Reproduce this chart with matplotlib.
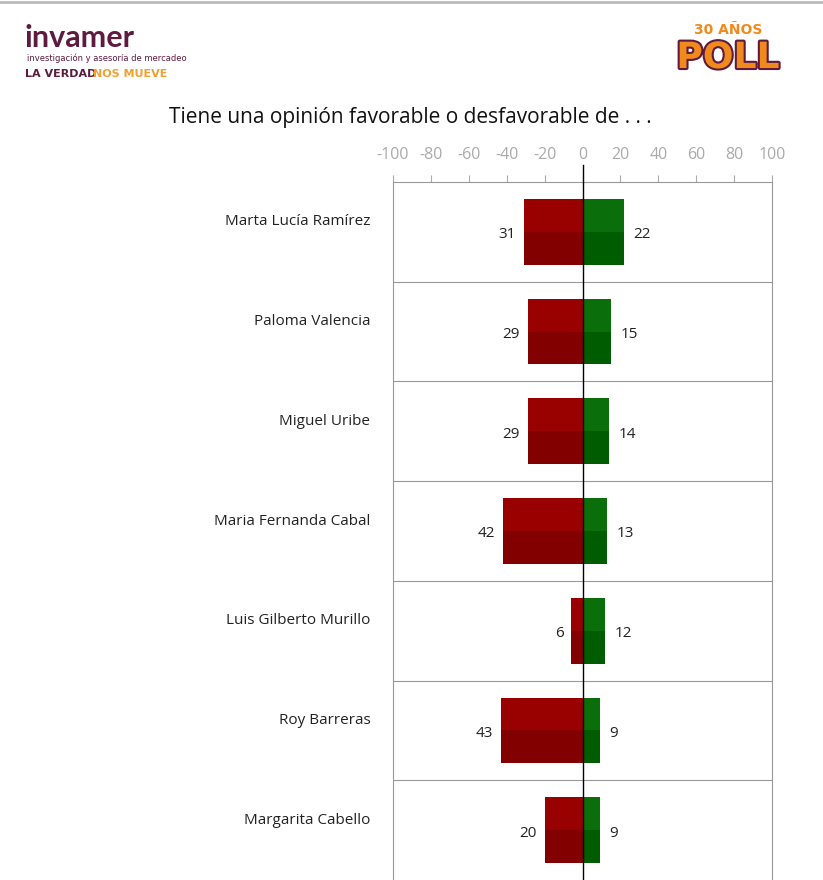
import matplotlib
matplotlib.use("Agg")
import matplotlib.pyplot as plt
import matplotlib.patheffects as pe

names = ["Marta Lucía Ramírez", "Paloma Valencia", "Miguel Uribe", "Maria Fernanda Cabal",
         "Luis Gilberto Murillo", "Roy Barreras", "Margarita Cabello"]
desfavorable = [31, 29, 29, 42, 6, 43, 20]
favorable = [22, 15, 14, 13, 12, 9, 9]
ticks = list(range(-100, 101, 20))

W, H = 823, 880
fig = plt.figure(figsize=(W/100, H/100), dpi=100)
fig.patch.set_facecolor("white")
fig.add_artist(plt.Line2D([0, 1], [0.998, 0.998], color="#bbbbbb", lw=2))

ax = fig.add_axes([393/W, 0, 379/W, 1 - 182/H])
ax.set_xlim(-100, 100)
ax.set_ylim(7, 0)
bh = 0.66
for i, (n, p) in enumerate(zip(desfavorable, favorable)):
    c = i + 0.5
    ax.barh(c - bh/4, -n, height=bh/2, color="#990000", left=0)
    ax.barh(c + bh/4, -n, height=bh/2, color="#820000", left=0)
    ax.barh(c - bh/4, p, height=bh/2, color="#0a6e0a", left=0)
    ax.barh(c + bh/4, p, height=bh/2, color="#005c00", left=0)
    ax.text(-n - 4, c + 0.03, str(n), ha="right", va="center", fontsize=11, family="Open Sans", color="#222222")
    ax.text(p + 5, c + 0.03, str(p), ha="left", va="center", fontsize=11, family="Open Sans", color="#222222")
    ax.text(-112, c - 0.1, names[i], ha="right", va="center", fontsize=11, family="Open Sans", color="#222222")
    if i > 0:
        ax.axhline(i, color="#999999", lw=0.8)
ax.axvline(0, color="black", lw=1, zorder=5)
ax.plot([0, 0], [0, -0.17], color="black", lw=1, clip_on=False)
ax.xaxis.tick_top()
ax.set_xticks(ticks)
ax.set_xticklabels([str(t) for t in ticks], color="#aaaaaa", fontsize=11.5, family="Open Sans")
ax.tick_params(axis="x", length=5, color="#aaaaaa", pad=9)
ax.set_yticks([])
for s in ["left", "right", "top"]:
    ax.spines[s].set_color("#999999")
ax.spines["bottom"].set_visible(False)

fig.text(410/W, 1 - 117/H, "Tiene una opinión favorable o desfavorable de . . .", ha="center", va="center",
         fontsize=15, family="Open Sans", color="#111111")
fig.text(25/W, 1 - 38/H, "invamer", fontsize=22, color="#5e1a3f", weight="bold", va="center", family="Lato")
fig.text(27/W, 1 - 58/H, "investigación y asesoría de mercadeo", fontsize=6, color="#5e1a3f", va="center")
fig.text(25/W, 1 - 74/H, "LA VERDAD", fontsize=8, color="#5e1a3f", weight="bold", va="center")
fig.text(93/W, 1 - 74/H, "NOS MUEVE", fontsize=8, color="#f0a030", weight="bold", va="center")
fig.text(728/W, 1 - 30/H, "30 AÑOS", fontsize=10, color="#f08a1d", weight="bold", ha="center", va="center")
fig.text(728/W, 1 - 58/H, "POLL", fontsize=26, color="#f08a1d", weight="bold", ha="center", va="center",
         path_effects=[pe.withStroke(linewidth=3, foreground="#5e1a3f")])
fig.savefig("out.png", dpi=100)
